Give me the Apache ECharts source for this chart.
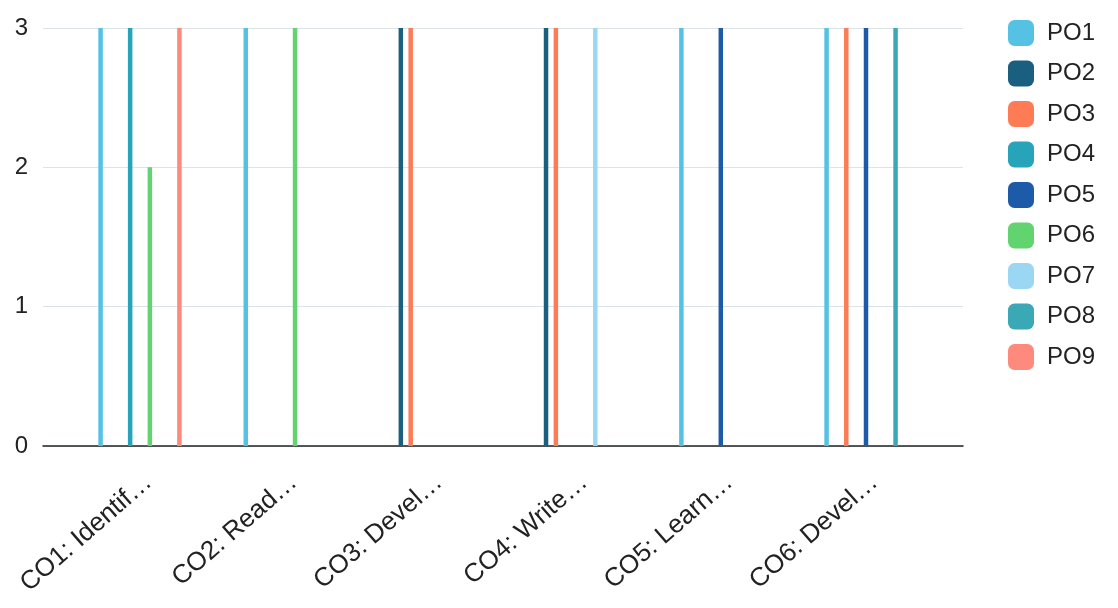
<!DOCTYPE html>
<html>
<head>
<meta charset="utf-8">
<script src="https://cdn.jsdelivr.net/npm/echarts@6/dist/echarts.min.js"></script>
<style>
html,body{margin:0;padding:0;background:#fff;}
#chart{width:1118px;height:608px;}
</style>
</head>
<body>
<div id="chart"></div>
<script>
const categories = ['CO1: Identif…', 'CO2: Read…', 'CO3: Devel…', 'CO4: Write…', 'CO5: Learn…', 'CO6: Devel…'];
const seriesNames = ['PO1', 'PO2', 'PO3', 'PO4', 'PO5', 'PO6', 'PO7', 'PO8', 'PO9'];
const PO1 = [3, 3, null, null, 3, 3];
const PO2 = [null, null, 3, 3, null, null];
const PO3 = [null, null, 3, 3, null, 3];
const PO4 = [3, null, null, null, null, null];
const PO5 = [null, null, null, null, 3, 3];
const PO6 = [2, 3, null, null, null, null];
const PO7 = [null, null, null, 3, null, null];
const PO8 = [null, null, null, null, null, 3];
const PO9 = [3, null, null, null, null, null];
const yTicks = [0, 1, 2, 3];

const seriesValues = [PO1, PO2, PO3, PO4, PO5, PO6, PO7, PO8, PO9];
const colors = ['#55c2e4', '#1b5f80', '#fd7b55', '#27a4b9', '#1d5aa8', '#62d46f', '#9bd7f2', '#3ba8b6', '#fd8a7c'];

const chart = echarts.init(document.getElementById('chart'));
const font = 'Liberation Sans, Arial, sans-serif';

chart.setOption({
  animation: false,
  backgroundColor: '#ffffff',
  color: colors,
  legend: {
    orient: 'vertical',
    left: 1003,
    top: 15,
    itemWidth: 26,
    itemHeight: 26,
    itemGap: 14.5,
    icon: 'roundRect',
    data: seriesNames,
    textStyle: { fontFamily: font, fontSize: 24, color: '#222', padding: [0, 0, 0, 8] }
  },
  grid: [
    { left: 43, right: 155, top: 28, bottom: 162 },
    { left: 67.4, right: 179.4, top: 28, bottom: 162 }
  ],
  xAxis: [
    {
      type: 'value', gridIndex: 0, min: 0, max: 1,
      axisLine: { show: true, lineStyle: { color: '#222', width: 1.5 } },
      axisTick: { show: false }, axisLabel: { show: false }, splitLine: { show: false }
    },
    {
      type: 'category', gridIndex: 1, data: categories,
      axisLine: { show: false }, axisTick: { show: false },
      axisLabel: {
        rotate: 41, margin: 23, interval: 0, verticalAlign: 'top',
        fontFamily: font, fontSize: 26, color: '#222'
      }
    }
  ],
  yAxis: [
    {
      type: 'value', gridIndex: 0, min: yTicks[0], max: yTicks[yTicks.length - 1], interval: 1,
      axisLine: { show: false }, axisTick: { show: false },
      axisLabel: { margin: 15, fontFamily: font, fontSize: 24, color: '#222' },
      splitLine: { lineStyle: { color: '#dae4e9', width: 1 } }
    },
    {
      type: 'value', gridIndex: 1, min: yTicks[0], max: yTicks[yTicks.length - 1], interval: 1,
      show: false
    }
  ],
  series: seriesNames.map((name, i) => ({
    name: name,
    type: 'bar',
    xAxisIndex: 1,
    yAxisIndex: 1,
    data: seriesValues[i],
    barWidth: 4.5,
    barGap: '119%',
    itemStyle: { color: colors[i] }
  }))
});
</script>
</body>
</html>
